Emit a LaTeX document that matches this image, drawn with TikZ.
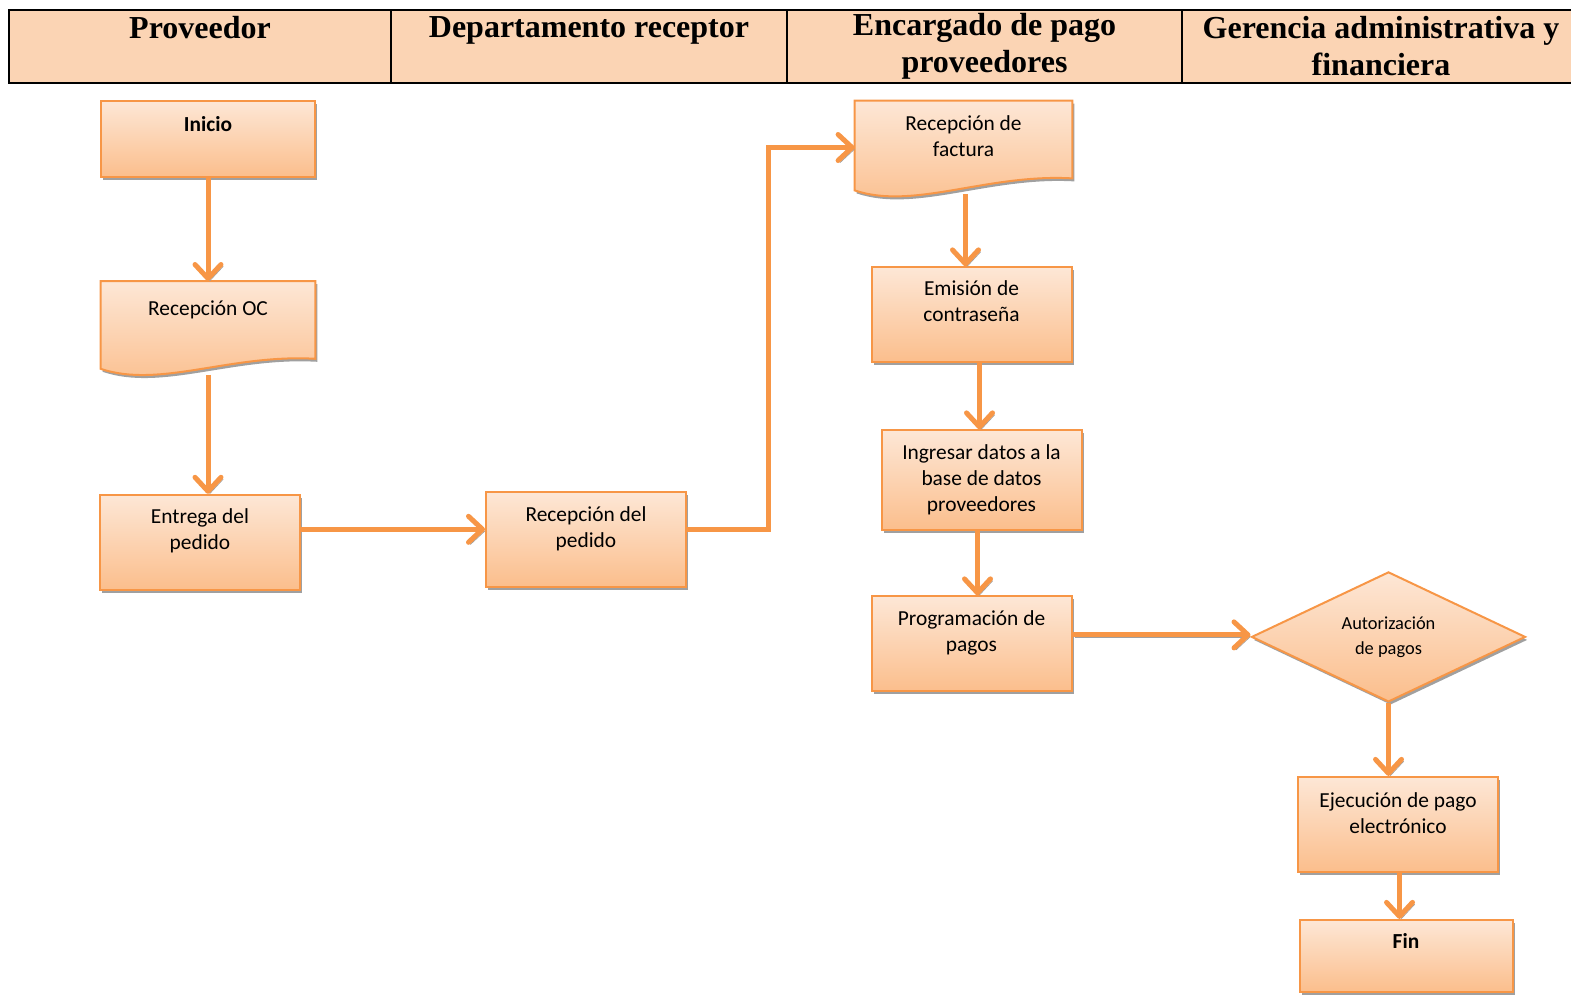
\documentclass[tikz,border=0pt]{standalone}
\usepackage{fontspec}
\setmainfont{Liberation Serif}
\newfontfamily\boxfont{Carlito}
\usetikzlibrary{positioning, shapes.geometric, shadows, arrows.meta, backgrounds}

\definecolor{laneback}{HTML}{FBD4B4}
\definecolor{flowline}{HTML}{F79646}
\definecolor{boxtop}{HTML}{FDE7D6}
\definecolor{boxbot}{HTML}{FBBE8C}
\definecolor{shadowgray}{HTML}{A0A0A0}

\tikzset{
  lane/.style={draw=black, line width=1.2pt, fill=laneback, minimum height=36.5pt,
    inner sep=1pt, outer sep=0pt, align=center, font=\fontsize{16}{18.5}\selectfont\bfseries},
  box/.style={draw=flowline, line width=1pt, top color=boxtop, bottom color=boxbot,
    general shadow={fill=shadowgray, shadow xshift=1pt, shadow yshift=-1.5pt},
    align=center, inner sep=2pt, font=\boxfont\fontsize{10.7}{13}\selectfont},
  proc/.style={box, rectangle, minimum width=100pt, minimum height=47.5pt, text depth=13pt},
  startend/.style={box, rectangle, minimum width=107pt, minimum height=38pt,
    font=\boxfont\bfseries\fontsize{10.7}{13}\selectfont},
  decis/.style={box, diamond, aspect=2.1, minimum width=137pt, minimum height=65pt, inner sep=0pt,
    font=\boxfont\fontsize{9.2}{12.5}\selectfont},
  docu/.style={rectangle, minimum width=107pt, inner sep=2pt, align=center,
    font=\boxfont\fontsize{10.7}{13}\selectfont},
  docpath/.style={draw=flowline, line width=1pt, top color=boxtop, bottom color=boxbot,
    general shadow={fill=shadowgray, shadow xshift=1pt, shadow yshift=-1.5pt}},
  flow/.style={draw=flowline, line width=2.5pt,
    -{Straight Barb[length=7pt, width=13pt, line width=2.5pt, round]},
    preaction={draw=shadowgray, transform canvas={xshift=1pt, yshift=-1pt}}}
}

% wavy bottom of a document box: node, rise of the right end
\newcommand{\docwave}[2]{%
  \path[docpath] (#1.north west) -- (#1.north east) -- ([yshift=#2]#1.south east)
    .. controls +(-85,-5) and +(59,20) .. (#1.south west) -- cycle;}

\begin{document}
\begin{tikzpicture}[x=0.5pt, y=-0.5pt]
  \useasboundingbox (0,0) rectangle (1571,997);

  % lanes
  \node[lane, minimum width=191pt, text depth=19.5pt] (hprov) at (200,46.5) {Proveedor};
  \node[lane, minimum width=198pt, text depth=19.5pt, right=0pt of hprov] (hdep) {Departamento receptor};
  \node[lane, minimum width=197.5pt, right=0pt of hdep] (henc) {Encargado de pago\\proveedores};
  \node[lane, minimum width=199pt, right=0pt of henc] (hger) {Gerencia administrativa y\\financiera};

  % proveedor / receptor
  \node[startend, text depth=15.5pt] (inicio) at (208,139) {Inicio};
  \node[docu, minimum height=43.5pt, text depth=17pt, below=51.5pt of inicio] (recoc) {Recepción OC};
  \node[proc, text depth=13.5pt, below=62.5pt of recoc, xshift=-4pt] (entrega) {Entrega del\\pedido};
  \node[proc, text depth=12.5pt, right=92pt of entrega, yshift=1.5pt] (recped) {Recepción del\\pedido};

  % encargado de pago
  \node[docu, minimum width=108.5pt, minimum height=44.5pt, text depth=9.5pt] (factura) at (963.5,145.5) {Recepción de\\factura};
  \node[proc, text depth=13.5pt, below=38pt of factura, xshift=4pt] (emision) {Emisión de\\contraseña};
  \node[proc, minimum height=50pt, text depth=2.5pt, below=33pt of emision, xshift=5pt] (ingresar) {Ingresar datos a la\\base de datos\\proveedores};
  \node[proc, text depth=12.5pt, below=32pt of ingresar, xshift=-5pt] (program) {Programación de\\pagos};

  % gerencia
  \node[decis, right=89pt of program, yshift=3.5pt] (autoriz) {Autorización\\de pagos};
  \node[proc, text depth=11.5pt, below=36.5pt of autoriz, xshift=4.75pt] (ejec) {Ejecución de pago\\electrónico};
  \node[startend, minimum width=106.5pt, minimum height=36pt, text depth=14.5pt, below=23pt of ejec, xshift=4pt] (fin) {Fin};

  \begin{scope}[on background layer]
    \docwave{recoc}{5pt}
    \docwave{factura}{6pt}
  \end{scope}

  % flujo
  \draw[flow] (inicio) -- (recoc);
  \draw[flow] ([yshift=-3pt]recoc.south) -- (recoc.south |- entrega.north);
  \draw[flow] ([yshift=6.5pt]entrega.east) -- ([yshift=6.5pt]entrega.east -| recped.west);
  \draw[flow] ([yshift=5pt]recped.east) -- ++(81,0) |- ([yshift=-1pt]factura.west);
  \draw[flow] ([xshift=1pt, yshift=-2pt]factura.south) -- ([xshift=1pt]factura.south |- emision.north);
  \draw[flow] ([xshift=-1pt]ingresar.north |- emision.south) -- ([xshift=-1pt]ingresar.north);
  \draw[flow] ([xshift=-2pt]ingresar.south) -- ([xshift=-2pt]ingresar.south |- program.north);
  \draw[flow] ([yshift=4.5pt]program.east) -- ([yshift=4.5pt]program.east -| autoriz.west);
  \draw[flow] (autoriz.south) -- (autoriz.south |- ejec.north);
  \draw[flow] ([xshift=0.75pt]ejec.south) -- ([xshift=0.75pt]ejec.south |- fin.north);
\end{tikzpicture}
\end{document}
